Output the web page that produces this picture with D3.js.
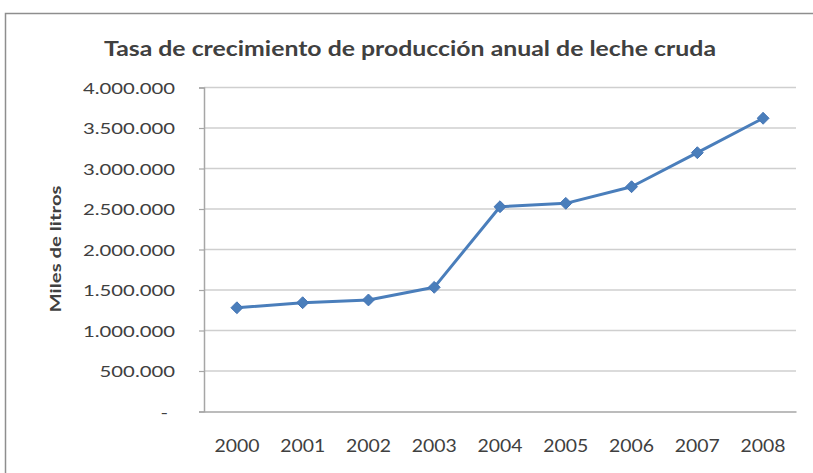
<!DOCTYPE html>
<html>
<head>
<meta charset="utf-8">
<script src="https://cdn.jsdelivr.net/npm/d3@7/dist/d3.min.js"></script>
<style>
  html, body { margin: 0; padding: 0; background: #fff; }
  svg { display: block; }
  text { font-family: Lato, "Open Sans", sans-serif; fill: #404040; }
</style>
</head>
<body>
<svg id="chart" width="813" height="473"></svg>
<script>
// Annual raw milk production (thousand litres)
const years = ["2000", "2001", "2002", "2003", "2004", "2005", "2006", "2007", "2008"];
const production = [1281000, 1343000, 1377000, 1533000, 2528000, 2570000, 2775000, 3195000, 3620000];
const yTicks = [0, 500000, 1000000, 1500000, 2000000, 2500000, 3000000, 3500000, 4000000];
const titleText = "Tasa de crecimiento de producción anual de leche cruda";
const yTitleText = "Miles de litros";

const svg = d3.select("#chart");
const plot = { left: 204, right: 796, top: 87.5, bottom: 411.5 };

// Spanish-style thousands separator, with a dash for zero
const locale = d3.formatLocale({ decimal: ",", thousands: ".", grouping: [3], currency: ["", ""] });
const fmt = v => v === 0 ? "-" : locale.format(",.0f")(v);

const x = d3.scaleBand().domain(years).range([plot.left, plot.right]).paddingInner(0).paddingOuter(0);
const y = d3.scaleLinear().domain([0, 4000000]).range([plot.bottom, plot.top]);
const cx = d => x(d) + x.bandwidth() / 2;

// Chart frame
svg.append("rect")
  .attr("x", 5.5).attr("y", 13.5).attr("width", 830).attr("height", 480)
  .attr("fill", "#fff").attr("stroke", "#8e8e8e").attr("stroke-width", 1.5);

// Stretch a text element horizontally by a factor relative to its natural width
function stretch(sel, k) {
  sel.each(function () {
    const w = this.getComputedTextLength();
    d3.select(this).attr("textLength", w * k).attr("lengthAdjust", "spacingAndGlyphs");
  });
}

// Horizontal gridlines
svg.append("g")
  .selectAll("line")
  .data(yTicks.slice(1))
  .join("line")
  .attr("x1", plot.left).attr("x2", plot.right)
  .attr("y1", d => y(d)).attr("y2", d => y(d))
  .attr("stroke", "#cfcfcf").attr("stroke-width", 1.5);

// Y axis
const yAxis = svg.append("g")
  .attr("transform", `translate(${plot.left},0)`)
  .call(d3.axisLeft(y).tickValues(yTicks).tickFormat(fmt).tickSize(5).tickPadding(24));
yAxis.select(".domain").attr("stroke", "#a6a6a6").attr("stroke-width", 1.5);
yAxis.selectAll(".tick line").attr("stroke", "#a6a6a6").attr("stroke-width", 1.2);
yAxis.selectAll(".tick text")
  .attr("fill", "#404040").attr("font-size", 16).attr("font-family", "Lato, sans-serif")
  .attr("dy", "0.35em");
yAxis.selectAll(".tick text").filter(d => d === 0).attr("x", -36);

// X axis
const xAxis = svg.append("g")
  .attr("transform", `translate(0,${plot.bottom})`)
  .call(d3.axisBottom(x).tickSize(0).tickPadding(0));
xAxis.select(".domain").attr("stroke", "#a6a6a6").attr("stroke-width", 1.5);
xAxis.selectAll(".tick text")
  .attr("fill", "#404040").attr("font-size", 16.5).attr("font-family", "Lato, sans-serif")
  .attr("y", 40.5).attr("dy", 0);

// Production line
svg.append("path")
  .datum(production)
  .attr("fill", "none")
  .attr("stroke", "#4a7ebb")
  .attr("stroke-width", 3)
  .attr("stroke-linejoin", "round")
  .attr("d", d3.line().x((d, i) => cx(years[i])).y(d => y(d)));

// Diamond markers
svg.append("g")
  .selectAll("path")
  .data(production)
  .join("path")
  .attr("transform", (d, i) => `translate(${cx(years[i])},${y(d)})`)
  .attr("d", d3.symbol(d3.symbolDiamond2, 90))
  .attr("fill", "#4a7ebb")
  .attr("stroke", "#4575b5").attr("stroke-width", 1);

// Title
const title = svg.append("text")
  .attr("x", 410).attr("y", 55.5)
  .attr("text-anchor", "middle")
  .attr("font-size", 21).attr("font-weight", 700)
  .attr("fill", "#1a1a1a")
  .text(titleText);

// Y axis title
const yTitle = svg.append("text")
  .attr("transform", "translate(61,249) rotate(-90)")
  .attr("text-anchor", "middle")
  .attr("font-size", 15).attr("font-weight", 700)
  .attr("fill", "#1a1a1a")
  .text(yTitleText);

// Widen glyphs to the chart's proportions
const yLabelK = 92 / yAxis.selectAll(".tick text").filter(d => d === 4000000).node().getComputedTextLength();
stretch(yAxis.selectAll(".tick text"), yLabelK);
const xLabelK = 45 / xAxis.selectAll(".tick text").node().getComputedTextLength();
stretch(xAxis.selectAll(".tick text"), xLabelK);
stretch(title, 612 / title.node().getComputedTextLength());
stretch(yTitle, 127 / yTitle.node().getComputedTextLength());
</script>
</body>
</html>
